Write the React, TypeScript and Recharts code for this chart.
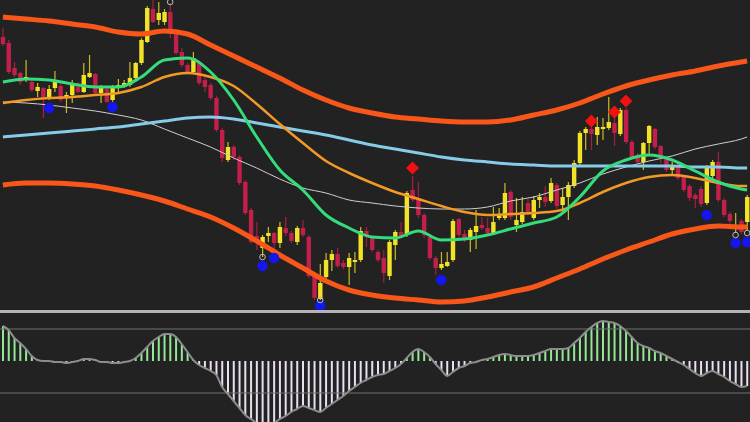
import React from 'react';
import { ComposedChart, Bar, Line, Scatter, XAxis, YAxis, ReferenceLine, Cell } from 'recharts';

// candle prices, one entry per bar (price units)
const opens = [
  363, 357, 332, 327, 320, 318, 309, 312, 303, 312,
  314, 303, 305, 313, 308, 323, 326, 307, 311, 300,
  312, 313, 315, 322, 337, 358, 391, 380, 378, 388,
  368, 348, 335, 328, 338, 320, 315, 302, 270, 240,
  253, 243, 218, 190, 164, 152, 164, 167, 157, 172,
  167, 158, 172, 163, 124, 101, 123, 140, 146, 137,
  133, 138, 140, 169, 163, 148, 142, 124, 155, 168,
  165, 210, 202, 185, 163, 142, 132, 134, 140, 181,
  166, 160, 168, 175, 172, 167, 182, 182, 208, 175,
  178, 197, 182, 200, 203, 199, 215, 195, 203, 214,
  237, 267, 271, 265, 271, 272, 277, 266, 290, 258,
  245, 238, 257, 271, 254, 242, 230, 235, 223, 214,
  205, 211, 197, 224, 238, 200, 186, 172, 179, 178,
];
const closes = [
  356, 328, 325, 318, 323, 310, 313, 302, 311, 319,
  300, 305, 315, 308, 325, 327, 307, 313, 298, 312,
  315, 317, 322, 337, 360, 392, 378, 387, 388, 368,
  347, 335, 328, 342, 317, 313, 302, 270, 242, 253,
  243, 217, 187, 158, 159, 163, 167, 157, 173, 167,
  159, 172, 165, 124, 102, 117, 140, 146, 134, 133,
  142, 140, 169, 164, 150, 140, 127, 158, 168, 163,
  207, 200, 185, 165, 142, 132, 136, 138, 179, 165,
  161, 170, 174, 172, 167, 178, 185, 207, 183, 180,
  188, 187, 200, 203, 198, 217, 194, 203, 215, 237,
  267, 271, 266, 273, 273, 278, 267, 290, 258, 243,
  238, 257, 274, 253, 244, 230, 235, 222, 210, 202,
  201, 196, 232, 238, 200, 185, 179, 174, 168, 203,
];
const highs = [
  372, 360, 338, 328, 340, 322, 317, 313, 315, 329,
  317, 308, 320, 318, 337, 345, 327, 315, 312, 315,
  321, 320, 338, 338, 362, 394, 400, 398, 391, 397,
  370, 352, 337, 348, 340, 323, 317, 304, 272, 258,
  255, 245, 220, 192, 178, 165, 173, 168, 178, 183,
  169, 174, 180, 165, 126, 136, 147, 150, 152, 140,
  147, 148, 173, 173, 164, 150, 150, 160, 170, 178,
  209, 224, 218, 187, 165, 144, 148, 148, 181, 182,
  170, 172, 190, 183, 182, 193, 192, 217, 210, 202,
  203, 201, 204, 207, 214, 222, 217, 212, 218, 240,
  269, 273, 273, 283, 282, 303, 283, 292, 292, 260,
  247, 258, 275, 272, 255, 244, 238, 237, 225, 216,
  207, 214, 235, 240, 248, 202, 188, 187, 181, 205,
];
const lows = [
  354, 326, 323, 315, 318, 308, 303, 282, 300, 308,
  298, 287, 297, 307, 307, 322, 305, 297, 297, 298,
  308, 312, 313, 320, 335, 357, 377, 375, 375, 362,
  345, 333, 326, 327, 315, 308, 300, 268, 238, 238,
  240, 215, 185, 156, 150, 143, 158, 148, 152, 164,
  157, 155, 163, 122, 100, 100, 119, 129, 132, 131,
  115, 127, 138, 153, 148, 138, 117, 120, 140, 162,
  163, 198, 182, 162, 140, 125, 130, 133, 138, 163,
  158, 148, 151, 170, 165, 165, 180, 180, 180, 168,
  176, 185, 180, 192, 193, 197, 191, 188, 180, 212,
  235, 250, 250, 255, 260, 270, 254, 264, 256, 241,
  236, 230, 245, 251, 237, 228, 225, 220, 208, 199,
  192, 193, 195, 220, 198, 183, 172, 167, 166, 170,
];

// oscillator histogram, one value per bar
const oscillator = [
  35, 31, 23, 18, 12, 5, 1, 0, 0, -1,
  -1, -2, -1, 0, 2, 2, 1, -1, -1, -2,
  -2, -1, 0, 3, 8, 14, 20, 24, 27, 27,
  24, 17, 9, 1, -4, -7, -10, -14, -26, -33,
  -40, -47, -54, -58, -62, -64, -64, -62, -58, -55,
  -51, -48, -45, -47, -49, -51, -47, -43, -39, -35,
  -30, -26, -22, -19, -16, -14, -13, -10, -7, -3,
  3, 9, 12, 9, 4, -3, -9, -15, -11, -7,
  -5, -2, -1, 1, 2, 4, 6, 7, 6, 5,
  5, 5, 6, 8, 10, 12, 12, 12, 13, 18,
  23, 29, 34, 38, 40, 39, 38, 35, 30, 24,
  18, 15, 13, 10, 8, 5, 2, -1, -4, -8,
  -12, -15, -12, -10, -13, -16, -20, -23, -26, -25,
];

// indicator lines, sampled at these bar indices
const lineIdx = [0, 4, 8, 12, 16, 20, 24, 28, 32, 36, 40, 44, 48, 52, 56, 60, 64, 68, 72, 76, 80, 84, 88, 92, 96, 100, 104, 108, 112, 116, 120, 124, 128, 129];
const upperBand = [383, 381, 379, 376, 373, 368, 366, 369, 366, 355, 344, 333, 322, 310, 300, 292, 287, 283, 281, 279, 278, 278, 280, 285, 290, 297, 306, 314, 320, 325, 329, 334, 338, 339];
const lowerBand = [215, 217, 217, 216, 214, 210, 205, 199, 191, 183, 172, 159, 145, 132, 119, 110, 105, 102, 100, 98, 99, 103, 108, 113, 122, 131, 141, 150, 158, 166, 171, 174, 173, 173];
const fastMa = [318, 321, 320, 316, 313, 313, 323, 340, 342, 328, 300, 263, 230, 210, 185, 172, 163, 162, 169, 160, 161, 165, 171, 177, 183, 203, 229, 240, 245, 240, 229, 218, 211, 210];
const midMa = [297, 300, 302, 303, 305, 307, 313, 323, 327, 323, 314, 296, 276, 257, 239, 227, 217, 208, 201, 194, 188, 185, 186, 187, 189, 197, 208, 217, 223, 225, 222, 217, 214, 214];
const slowMa = [263, 265, 267, 269, 271, 273, 276, 279, 282, 283, 281, 277, 273, 269, 265, 260, 255, 251, 247, 243, 240, 238, 236, 235, 234, 234, 234, 234, 234, 234, 233, 233, 232, 232];
const longMa = [298, 297, 295, 292, 289, 285, 280, 271, 262, 253, 242, 232, 221, 212, 207, 200, 197, 194, 192, 191, 191, 193, 199, 203, 210, 217, 226, 233, 239, 244, 251, 256, 261, 263];

// signal markers: [bar index, price]
const sellSignals = [[71, 232], [102, 279], [106, 288], [108, 299]];
const buySignals = [[8, 292], [19, 293], [45, 134], [47, 142], [55, 94], [76, 120], [122, 185], [127, 157], [129, 158]];
const pivotRings = [[29, 398], [45, 143], [55, 100], [127, 165], [129, 167]];

const rows: any[] = opens.map((open, i) => ({
  i,
  open,
  close: closes[i],
  high: highs[i],
  low: lows[i],
  range: [lows[i], highs[i]],
  osc: oscillator[i],
}));
lineIdx.forEach((idx, k) => {
  rows[idx].upper = upperBand[k];
  rows[idx].lower = lowerBand[k];
  rows[idx].fast = fastMa[k];
  rows[idx].mid = midMa[k];
  rows[idx].slow = slowMa[k];
  rows[idx].long = longMa[k];
});
sellSignals.forEach(([idx, p]) => { rows[idx].sell = p; });
buySignals.forEach(([idx, p]) => { rows[idx].buy = p; });
pivotRings.forEach(([idx, p]) => { rows[idx].ring = p; });

const UP = '#f3e326';
const DOWN = '#c31f4b';

const Candle = (props: any) => {
  const { x, y, width, height, payload } = props;
  if (!payload || height == null) return <g />;
  const { open, close, high, low } = payload;
  const k = height / (high - low);
  const top = y + (high - Math.max(open, close)) * k;
  const bh = Math.max(1.5, Math.abs(open - close) * k);
  const cx = x + width / 2;
  const color = close >= open ? UP : DOWN;
  return (
    <g>
      <line x1={cx} x2={cx} y1={y} y2={y + height} stroke={color} strokeOpacity={0.8} strokeWidth={1.2} />
      <rect x={cx - 2.2} y={top} width={4.4} height={bh} fill={color} />
    </g>
  );
};

const Diamond = (p: any) => {
  if (p.payload?.sell == null) return <g />;
  const { cx, cy } = p;
  return <polygon points={`${cx},${cy - 6.5} ${cx + 6.5},${cy} ${cx},${cy + 6.5} ${cx - 6.5},${cy}`} fill="#f21111" />;
};
const BlueDot = (p: any) => {
  if (p.payload?.buy == null) return <g />;
  return <circle cx={p.cx} cy={p.cy} r={5.2} fill="#1515ee" />;
};
const Ring = (p: any) => {
  if (p.payload?.ring == null) return <g />;
  return <circle cx={p.cx} cy={p.cy} r={2.8} fill="none" stroke="#b8b8b8" strokeWidth={1} />;
};

// lines are sparse, keep recharts from marking any point
const NoDot = (p: any) => <g key={`nd-${p.index}`} />;

export default function App() {
  return (
    <div style={{ position: 'absolute', left: 0, top: 0, width: 750, height: 422, background: '#222222', overflow: 'hidden' }}>
      <div style={{ position: 'absolute', left: 0, top: 0 }}>
        <ComposedChart width={750} height={310} data={rows} margin={{ top: 0, right: 0, bottom: 0, left: 0 }} barCategoryGap={0}>
          <XAxis dataKey="i" type="category" hide />
          <YAxis type="number" domain={[90, 400]} hide allowDataOverflow />
          <Bar dataKey="range" shape={Candle} isAnimationActive={false} />
          <Scatter dataKey="buy" shape={BlueDot} isAnimationActive={false} />
          <Scatter dataKey="ring" shape={Ring} isAnimationActive={false} />
          <Scatter dataKey="sell" shape={Diamond} isAnimationActive={false} />
          <Line type="monotone" dataKey="long" stroke="#cfcfcf" strokeWidth={1} dot={NoDot} activeDot={false} connectNulls isAnimationActive={false} />
          <Line type="monotone" dataKey="slow" stroke="#86cbe8" strokeWidth={3} dot={NoDot} activeDot={false} connectNulls isAnimationActive={false} />
          <Line type="monotone" dataKey="mid" stroke="#f29a26" strokeWidth={2.5} dot={NoDot} activeDot={false} connectNulls isAnimationActive={false} />
          <Line type="monotone" dataKey="fast" stroke="#35dc7c" strokeWidth={3} dot={NoDot} activeDot={false} connectNulls isAnimationActive={false} />
          <Line type="monotone" dataKey="upper" stroke="#f9561a" strokeWidth={5} dot={NoDot} activeDot={false} connectNulls isAnimationActive={false} />
          <Line type="monotone" dataKey="lower" stroke="#f9561a" strokeWidth={5} dot={NoDot} activeDot={false} connectNulls isAnimationActive={false} />
        </ComposedChart>
      </div>
      <div style={{ position: 'absolute', left: 0, top: 310, width: 750, height: 3, background: '#b4b4b4' }} />
      <div style={{ position: 'absolute', left: 0, top: 314 }}>
        <ComposedChart width={750} height={108} data={rows} margin={{ top: 0, right: 0, bottom: 0, left: 0 }}>
          <XAxis dataKey="i" type="category" hide />
          <YAxis type="number" domain={[-61, 47]} hide allowDataOverflow />
          <ReferenceLine y={32} stroke="#707070" strokeWidth={1} />
          <ReferenceLine y={-32} stroke="#707070" strokeWidth={1} />
          <Bar dataKey="osc" barSize={2} isAnimationActive={false}>
            {rows.map((r) => (
              <Cell key={r.i} fill={r.osc >= 0 ? '#94e894' : '#eadff1'} />
            ))}
          </Bar>
          <Line type="monotone" dataKey="osc" stroke="#8c8c8c" strokeWidth={2} dot={false} activeDot={false} isAnimationActive={false} />
        </ComposedChart>
      </div>
    </div>
  );
}
